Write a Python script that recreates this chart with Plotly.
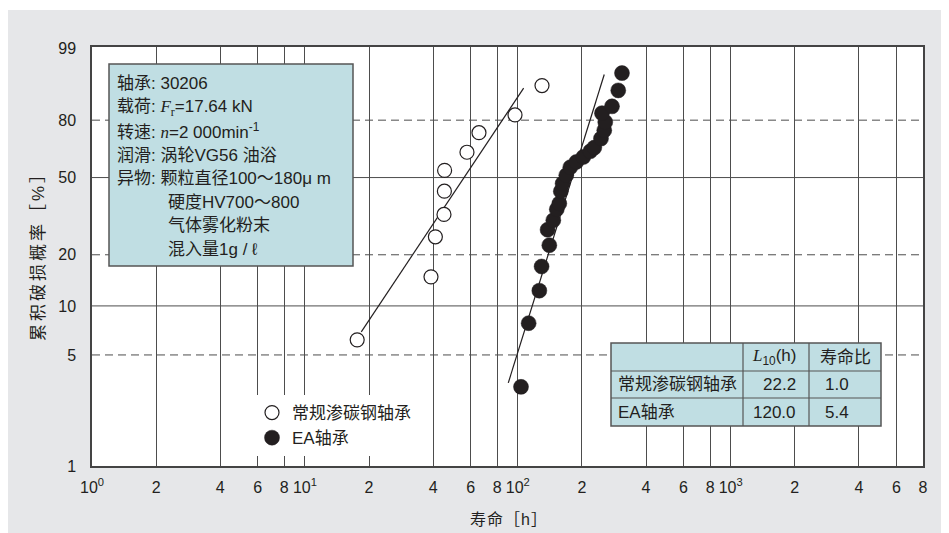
import numpy as np
import plotly.graph_objects as go

# ---------------- data ----------------
conv_life = [17.6, 39.1, 41.0, 45.0, 45.2, 45.3, 57.7, 65.7, 97.0, 129.9]
conv_F = [6.2, 14.9, 25.2, 33.2, 43.3, 53.7, 63.4, 73.8, 82.4, 93.1]

ea_life = [103.5, 112.4, 126.2, 129.3, 140.6, 138.0, 146.8, 152.4, 156.6, 159.2,
           162.3, 168.9, 176.4, 188.2, 203.0, 218.9, 228.7, 245.8, 254.7, 257.5,
           248.5, 276.9, 296.3, 308.5]
ea_F = [3.16, 7.85, 12.35, 17.13, 22.65, 27.56, 30.96, 35.28, 37.7, 43.26,
        46.98, 51.17, 55.32, 58.15, 60.82, 63.91, 65.9, 70.7, 75.0, 79.1,
        83.2, 86.07, 91.72, 95.97]

conv_fit_life = [18.4, 106.5]
conv_fit_F = [6.95, 92.4]
ea_fit_life = [90.2, 254.7]
ea_fit_F = [3.35, 95.7]

x_tick_vals = [1, 2, 4, 6, 8, 10, 20, 40, 60, 80, 100, 200, 400, 600, 800,
               1000, 2000, 4000, 6000, 8000]
x_tick_text = ["10<sup>0</sup>", "2", "4", "6", "8", "10<sup>1</sup>", "2", "4", "6", "8",
               "10<sup>2</sup>", "2", "4", "6", "8", "10<sup>3</sup>", "2", "4", "6", "8"]
y_tick_vals = [1, 5, 10, 20, 50, 80, 99]
grid_solid_F = [10, 50]
grid_dashed_F = [5, 20, 80]

legend_names = ["常规渗碳钢轴承", "EA轴承"]

SERIF = "font-family:'Liberation Serif'"
info_lines = ["轴承: 30206",
              "载荷: <span style=\"" + SERIF + "\"><i>F</i><sub>r</sub></span>=17.64 kN",
              "转速: <span style=\"" + SERIF + "\"><i>n</i></span>=2 000min<sup>-1</sup>",
              "润滑: 涡轮VG56 油浴",
              "异物: 颗粒直径100～180μ m",
              "硬度HV700～800",
              "气体雾化粉末",
              "混入量1g / ℓ"]
info_indent = [False, False, False, False, False, True, True, True]

table_header = ["", "<span style=\"" + SERIF + "\"><i>L</i></span><sub>10</sub>(h)", "寿命比"]
table_rows = [["常规渗碳钢轴承", "22.2", "1.0"],
              ["EA轴承", "120.0", "5.4"]]

x_title = "寿命［h］"
y_title = "累积破损概率［%］"


def weib(F):
    p = np.asarray(F, dtype=float) / 100.0
    return np.log(-np.log(1.0 - p))


# ---------------- layout helpers (page pixel -> paper) ----------------
OFF = 8                      # page body margin
W_FIG, H_FIG = 949 - OFF, 533 - OFF
L, R, T, B = 92, 923, 47, 466   # plot area in page pixels


def px(x):
    return (x - L) / (R - L)


def py(y):
    return (B - y) / (B - T)


INK = "#231f20"
GRID = "#4d4d4d"
BOXFILL = "#c0dee3"
FONT = "Liberation Sans, Noto Sans CJK SC, sans-serif"

fig = go.Figure()

# fit lines
fig.add_trace(go.Scatter(x=conv_fit_life, y=weib(conv_fit_F), mode="lines",
                         line=dict(color=INK, width=1.2), showlegend=False, hoverinfo="skip"))
fig.add_trace(go.Scatter(x=ea_fit_life, y=weib(ea_fit_F), mode="lines",
                         line=dict(color=INK, width=1.2), showlegend=False, hoverinfo="skip"))
# points
fig.add_trace(go.Scatter(x=conv_life, y=weib(conv_F), mode="markers", name=legend_names[0],
                         marker=dict(symbol="circle", size=14, color="white",
                                     line=dict(color=INK, width=1.2))))
fig.add_trace(go.Scatter(x=ea_life, y=weib(ea_F), mode="markers", name=legend_names[1],
                         marker=dict(symbol="circle", size=15, color=INK,
                                     line=dict(color=INK, width=0.5))))

shapes = []
# thin white strip at the top of the grey panel
shapes.append(dict(type="rect", xref="paper", yref="paper", x0=px(0), x1=px(960),
                   y0=py(10), y1=py(0), fillcolor="white", line=dict(width=0), layer="below"))

# horizontal grid lines
for F in grid_solid_F:
    shapes.append(dict(type="line", xref="paper", yref="y", x0=0, x1=1,
                       y0=float(weib(F)), y1=float(weib(F)),
                       line=dict(color=GRID, width=1), layer="below"))
for F in grid_dashed_F:
    shapes.append(dict(type="line", xref="paper", yref="y", x0=0, x1=1,
                       y0=float(weib(F)), y1=float(weib(F)),
                       line=dict(color=GRID, width=1, dash="8px,5px"), layer="below"))

# info box
shapes.append(dict(type="rect", xref="paper", yref="paper", x0=px(109), x1=px(353),
                   y0=py(266), y1=py(64), fillcolor=BOXFILL,
                   line=dict(color="#555555", width=1.5), layer="above"))

# table
tx0, tx1, tc1, tc2 = 611, 881, 743, 809
ty0, ty1, tr1, tr2 = 343, 426, 371, 398
shapes.append(dict(type="rect", xref="paper", yref="paper", x0=px(tx0), x1=px(tx1),
                   y0=py(ty1), y1=py(ty0), fillcolor=BOXFILL,
                   line=dict(color="#555555", width=1.5), layer="above"))
for xc in (tc1, tc2):
    shapes.append(dict(type="line", xref="paper", yref="paper", x0=px(xc), x1=px(xc),
                       y0=py(ty1), y1=py(ty0), line=dict(color="#555555", width=1.2)))
for yr in (tr1, tr2):
    shapes.append(dict(type="line", xref="paper", yref="paper", x0=px(tx0), x1=px(tx1),
                       y0=py(yr), y1=py(yr), line=dict(color="#555555", width=1.2)))

annotations = []
TXT = dict(size=17, color=INK, family=FONT)
# info text
line_y = [84, 108, 131, 155, 178, 202, 225, 249]
for txt, ind, yy in zip(info_lines, info_indent, line_y):
    annotations.append(dict(xref="paper", yref="paper", x=px(166 if ind else 115), y=py(yy),
                            text=txt, showarrow=False, xanchor="left", yanchor="middle",
                            font=TXT))

# table text
row_centers = [(ty0 + tr1) / 2, (tr1 + tr2) / 2, (tr2 + ty1) / 2]
col2_right = 798
col3_center = 842
annotations.append(dict(xref="paper", yref="paper", x=px(col2_right), y=py(row_centers[0]),
                        text=table_header[1], showarrow=False, xanchor="right", yanchor="middle",
                        font=TXT))
annotations.append(dict(xref="paper", yref="paper", x=px(col3_center + 3), y=py(row_centers[0]),
                        text=table_header[2], showarrow=False, xanchor="center", yanchor="middle",
                        font=TXT))
for row, yc in zip(table_rows, row_centers[1:]):
    annotations.append(dict(xref="paper", yref="paper", x=px(616), y=py(yc),
                            text=row[0], showarrow=False, xanchor="left", yanchor="middle",
                            font=TXT))
    annotations.append(dict(xref="paper", yref="paper", x=px(col2_right), y=py(yc),
                            text=row[1], showarrow=False, xanchor="right", yanchor="middle",
                            font=TXT))
    annotations.append(dict(xref="paper", yref="paper", x=px(col3_center - 5), y=py(yc),
                            text=row[2], showarrow=False, xanchor="center", yanchor="middle",
                            font=TXT))

# axis titles
annotations.append(dict(xref="paper", yref="paper", x=px(509), y=py(519),
                        text="<span style=\"letter-spacing:1px\">" + x_title + "</span>",
                        showarrow=False, xanchor="center", yanchor="middle",
                        font=dict(size=16, color=INK, family=FONT)))
annotations.append(dict(xref="paper", yref="paper", x=px(38), y=py(252),
                        text="<span style=\"letter-spacing:3px\">" + y_title + "</span>",
                        showarrow=False, xanchor="center", yanchor="middle", textangle=-90,
                        font=dict(size=17, color=INK, family=FONT)))

fig.update_layout(
    width=W_FIG, height=H_FIG, autosize=False,
    margin=dict(l=L - OFF, r=W_FIG - (R - OFF), t=T - OFF, b=H_FIG - (B - OFF), pad=0),
    paper_bgcolor="#e6e7e9", plot_bgcolor="white",
    font=dict(family=FONT, size=16, color=INK),
    shapes=shapes, annotations=annotations,
    legend=dict(x=px(252), y=py(395), xanchor="left", yanchor="top",
                bgcolor="white", borderwidth=0, font=TXT,
                itemsizing="trace", tracegroupgap=0),
    xaxis=dict(type="log", range=[0, np.log10(8000)], tickvals=x_tick_vals, ticktext=x_tick_text,
               showgrid=True, gridcolor=GRID, gridwidth=1, zeroline=False,
               showline=True, linecolor="#444444", linewidth=1.5, mirror=True,
               ticks="", ticklabelstandoff=6, tickfont=dict(size=16, color=INK)),
    yaxis=dict(range=[float(weib(1)), float(weib(99.1))], tickvals=weib(y_tick_vals).tolist(),
               ticktext=[str(v) for v in y_tick_vals],
               showgrid=False, zeroline=False,
               showline=True, linecolor="#444444", linewidth=1.5, mirror=True,
               ticks="", ticklabelstandoff=11, tickfont=dict(size=16, color=INK)),
)

fig.write_html("out.html")
